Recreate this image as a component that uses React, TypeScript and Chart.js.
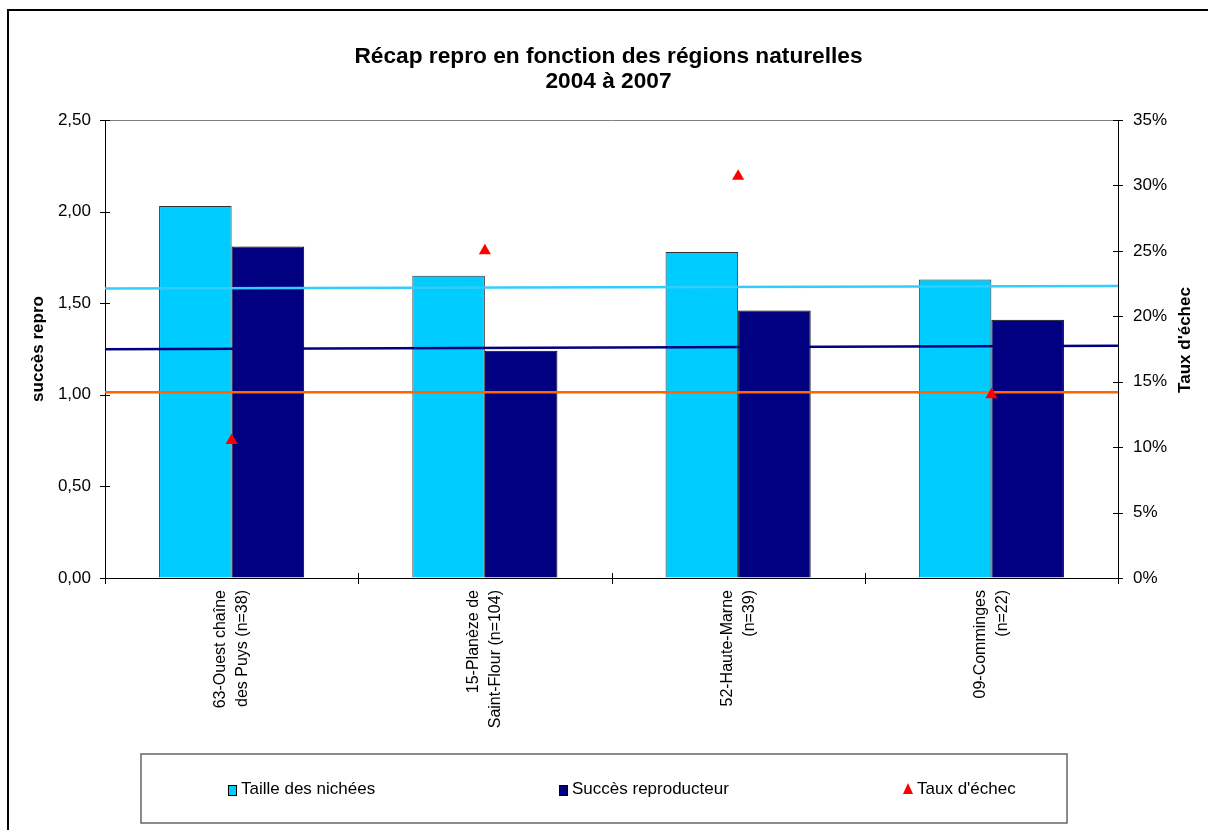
import { useEffect, useRef } from "react";
import { Chart, registerables } from "chart.js";

Chart.register(...registerables);

// ---------- data ----------
const categories: string[][] = [
  ["63-Ouest chaîne", "des Puys (n=38)"],
  ["15-Planèze de", "Saint-Flour (n=104)"],
  ["52-Haute-Marne", "(n=39)"],
  ["09-Comminges", "(n=22)"],
];
const tailleNichees = [2.03, 1.65, 1.78, 1.63];
const succesReproducteur = [1.81, 1.24, 1.46, 1.41];
const tauxEchec = [10.5, 25.0, 30.7, 14.0];

// straight lines across the whole plot (start / end values, left axis units)
const trendTaille = [1.58, 1.594];
const trendSucces = [1.248, 1.268];
const lineOrange = [1.014, 1.014];

const leftMin = 0;
const leftMax = 2.5;
const leftStep = 0.5;
const rightMin = 0;
const rightMax = 35;
const rightStep = 5;

const titleLines = ["Récap repro en fonction des régions naturelles", "2004 à 2007"];
const leftTitle = "succès repro";
const rightTitle = "Taux d'échec";
const legendOrder = ["Taille des nichées", "Succès reproducteur", "Taux d'échec"];

const FONT = "'Liberation Sans', Arial, sans-serif";

// categories sit at the centre of unit slots on one shared x scale
const catPos = categories.map((_, i) => i + 0.5);
const xEdges = [0, categories.length];
const atCats = (ys: number[]) => ys.map((y, i) => ({ x: catPos[i], y }));
const acrossPlot = (ys: number[]) => ys.map((y, i) => ({ x: xEdges[i], y }));

const extrasPlugin = {
  id: "extras",
  afterDraw(chart: any) {
    const ctx = chart.ctx as CanvasRenderingContext2D;
    const ca = chart.chartArea;
    const sx = chart.scales.x;
    const sy = chart.scales.y;
    const sy1 = chart.scales.y1;
    ctx.save();
    // top border of plot
    ctx.strokeStyle = "#808080";
    ctx.lineWidth = 1;
    ctx.beginPath();
    ctx.moveTo(ca.left, ca.top + 0.5);
    ctx.lineTo(ca.right, ca.top + 0.5);
    ctx.stroke();
    // crossing tick marks
    ctx.strokeStyle = "#000";
    ctx.beginPath();
    sy.ticks.forEach((t: any) => {
      const y = Math.round(sy.getPixelForValue(t.value)) + 0.5;
      ctx.moveTo(ca.left - 5, y);
      ctx.lineTo(ca.left + 5, y);
    });
    sy1.ticks.forEach((t: any) => {
      const y = Math.round(sy1.getPixelForValue(t.value)) + 0.5;
      ctx.moveTo(ca.right - 5, y);
      ctx.lineTo(ca.right + 5, y);
    });
    for (let i = 0; i <= categories.length; i++) {
      const x = Math.round(sx.getPixelForValue(i)) + 0.5;
      ctx.moveTo(x, ca.bottom - 5);
      ctx.lineTo(x, ca.bottom + 6);
    }
    ctx.stroke();

    // right axis title (reads bottom-to-top)
    ctx.save();
    ctx.translate(ca.right + 67, (ca.top + ca.bottom) / 2 - 9);
    ctx.rotate(-Math.PI / 2);
    ctx.font = `bold 17px ${FONT}`;
    ctx.fillStyle = "#000";
    ctx.textAlign = "center";
    ctx.textBaseline = "middle";
    ctx.fillText(rightTitle, 0, 0);
    ctx.restore();

    // legend box
    const lx = 132, ly = 743, lw = 926, lh = 69;
    ctx.strokeStyle = "#666";
    ctx.lineWidth = 1.5;
    ctx.strokeRect(lx, ly, lw, lh);
    const cy = ly + 35;
    const itemX = [219, 550, 894];
    ctx.font = `17px ${FONT}`;
    ctx.textBaseline = "middle";
    ctx.textAlign = "left";
    legendOrder.forEach((name, i) => {
      const d = chart.data.datasets.find((ds: any) => ds.label === name);
      if (!d) return;
      const x = itemX[i];
      if (d.pointStyle === "triangle") {
        ctx.fillStyle = d.backgroundColor;
        ctx.beginPath();
        ctx.moveTo(x + 5, cy - 6);
        ctx.lineTo(x + 10, cy + 5);
        ctx.lineTo(x, cy + 5);
        ctx.closePath();
        ctx.fill();
        ctx.fillStyle = "#000";
        ctx.fillText(d.label, x + 14, cy);
      } else {
        ctx.fillStyle = d.backgroundColor;
        ctx.fillRect(x, cy - 4, 8, 10);
        ctx.strokeStyle = "#000";
        ctx.lineWidth = 1;
        ctx.strokeRect(x + 0.5, cy - 3.5, 8, 10);
        ctx.fillStyle = "#000";
        ctx.fillText(d.label, x + 13, cy);
      }
    });
    ctx.restore();
  },
};

export default function App() {
  const ref = useRef<HTMLCanvasElement | null>(null);

  useEffect(() => {
    if (!ref.current) return;
    const chart = new Chart(ref.current, {
      type: "bar",
      data: {
        datasets: [
          {
            type: "line",
            label: "Taux d'échec",
            data: atCats(tauxEchec),
            yAxisID: "y1",
            showLine: false,
            pointStyle: "triangle",
            pointRadius: 7,
            pointBorderWidth: 0,
            backgroundColor: "#FF0000",
            borderColor: "#FF0000",
          } as any,
          {
            type: "line",
            label: "trend taille",
            data: acrossPlot(trendTaille),
            yAxisID: "y",
            borderColor: "#33CCFF",
            borderWidth: 2.5,
            pointRadius: 0,
          } as any,
          {
            type: "line",
            label: "trend succès",
            data: acrossPlot(trendSucces),
            yAxisID: "y",
            borderColor: "#000080",
            borderWidth: 2.5,
            pointRadius: 0,
          } as any,
          {
            type: "line",
            label: "ligne",
            data: acrossPlot(lineOrange),
            yAxisID: "y",
            borderColor: "#FF6600",
            borderWidth: 2.5,
            pointRadius: 0,
          } as any,
          {
            type: "bar",
            label: "Taille des nichées",
            data: atCats(tailleNichees),
            yAxisID: "y",
            backgroundColor: "#00CCFF",
            borderColor: "#333",
            borderWidth: 1,
            barPercentage: 1,
            categoryPercentage: 0.573,
          } as any,
          {
            type: "bar",
            label: "Succès reproducteur",
            data: atCats(succesReproducteur),
            yAxisID: "y",
            backgroundColor: "#000080",
            borderColor: "#000",
            borderWidth: 1,
            barPercentage: 1,
            categoryPercentage: 0.573,
          } as any,
        ],
      },
      options: {
        animation: false,
        responsive: true,
        maintainAspectRatio: false,
        layout: { padding: { top: 0, left: 0, right: 0, bottom: 102 } },
        plugins: {
          legend: { display: false },
          tooltip: { enabled: false },
          title: {
            display: true,
            text: titleLines,
            color: "#000",
            font: { family: FONT, size: 22.7, weight: "bold", lineHeight: 25 / 22.7 },
            padding: { top: 33.5, bottom: 25.5 },
          },
        },
        scales: {
          x: {
            type: "linear",
            min: xEdges[0],
            max: xEdges[1],
            offset: false,
            afterBuildTicks: (s: any) => {
              s.ticks = catPos.map((v) => ({ value: v }));
            },
            grid: { drawOnChartArea: false, drawTicks: false },
            border: { color: "#000", width: 1 },
            ticks: {
              autoSkip: false,
              maxRotation: 90,
              minRotation: 90,
              padding: 12,
              labelOffset: -11,
              color: "#000",
              font: { family: FONT, size: 16, lineHeight: 22 / 16 },
              callback: (_v: any, i: number) => categories[i],
            },
            afterFit: (s: any) => {
              s.height = 150;
            },
          },
          y: {
            type: "linear",
            position: "left",
            min: leftMin,
            max: leftMax,
            ticks: {
              stepSize: leftStep,
              padding: 14,
              color: "#000",
              font: { family: FONT, size: 17 },
              callback: (v: any) => Number(v).toFixed(2).replace(".", ","),
            },
            grid: { drawOnChartArea: false, drawTicks: false },
            border: { color: "#000", width: 1 },
            title: {
              display: true,
              text: leftTitle,
              color: "#000",
              font: { family: FONT, size: 17, weight: "bold", lineHeight: 1.2 },
              padding: { top: 19, bottom: 0 },
            },
            afterFit: (s: any) => {
              s.width = 96;
            },
          },
          y1: {
            type: "linear",
            position: "right",
            min: rightMin,
            max: rightMax,
            ticks: {
              stepSize: rightStep,
              padding: 15,
              color: "#000",
              font: { family: FONT, size: 17 },
              callback: (v: any) => `${v}%`,
            },
            grid: { drawOnChartArea: false, drawTicks: false },
            border: { color: "#000", width: 1 },
            afterFit: (s: any) => {
              s.width = 90;
            },
          },
        },
      },
      plugins: [extrasPlugin],
    } as any);
    return () => chart.destroy();
  }, []);

  return (
    <div
      style={{
        position: "fixed",
        left: 7,
        top: 9,
        borderLeft: "2px solid #000",
        borderTop: "2px solid #000",
        background: "#fff",
      }}
    >
      <div style={{ position: "relative", width: 1199, height: 819 }}>
        <canvas ref={ref} />
      </div>
    </div>
  );
}
